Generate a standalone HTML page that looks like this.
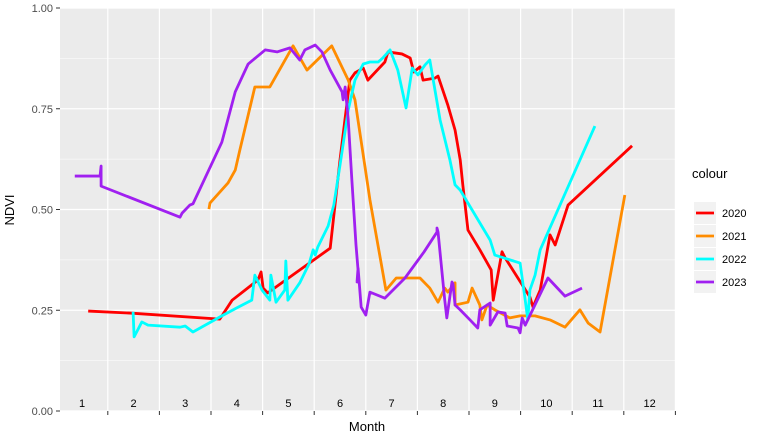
<!DOCTYPE html>
<html><head><meta charset="utf-8"><style>
body{margin:0;background:#fff;font-family:"Liberation Sans",sans-serif}
svg text{font-family:"Liberation Sans",sans-serif}
</style></head><body>
<svg id="chart" width="773" height="442">
<rect x="60" y="8" width="615" height="403" fill="#ebebeb"/>
<g id="grid"></g><g id="series"></g><g id="axes"></g>
<text x="14" y="210" transform="rotate(-90 14 210)" text-anchor="middle" font-size="13" fill="#000">NDVI</text>
<text x="367" y="431" text-anchor="middle" font-size="13" fill="#000">Month</text>
<g id="legend"></g>
</svg>
<script>
const months=[1,2,3,4,5,6,7,8,9,10,11,12];
const yTicks=[0,0.25,0.5,0.75,1];
const yTickLabels=["0.00","0.25","0.50","0.75","1.00"];
const seriesNames=["2020","2021","2022","2023"];
const seriesColors=["#ff0000","#ff8c00","#00ffff","#a020f0"];
const s2020=[[1.12,.248],[1.93,.243],[3.67,.228],[3.91,.275],[4.16,.300],[4.41,.325],[4.47,.345],[4.51,.305],[4.60,.293],[5.81,.404],[6.00,.623],[6.19,.821],[6.29,.839],[6.45,.851],[6.54,.821],[6.87,.866],[6.93,.891],[7.20,.886],[7.36,.876],[7.43,.841],[7.55,.854],[7.61,.821],[7.84,.826],[7.90,.831],[8.09,.759],[8.23,.697],[8.33,.623],[8.38,.561],[8.48,.449],[8.71,.400],[8.93,.350],[8.97,.275],[9.14,.395],[9.20,.380],[9.68,.283],[9.74,.258],[9.88,.300],[10.07,.437],[10.17,.412],[10.42,.511],[11.66,.658]];
const s2021=[[3.46,.501],[3.48,.516],[3.83,.566],[3.97,.598],[4.06,.648],[4.35,.804],[4.64,.804],[5.09,.906],[5.36,.846],[5.84,.906],[6.16,.821],[6.29,.772],[6.58,.524],[6.89,.300],[7.09,.330],[7.55,.330],[7.74,.305],[7.90,.270],[8.03,.305],[8.09,.295],[8.23,.318],[8.23,.263],[8.48,.270],[8.56,.305],[8.71,.263],[8.75,.226],[8.85,.263],[9.00,.251],[9.29,.231],[9.49,.236],[9.78,.236],[10.07,.226],[10.36,.208],[10.65,.251],[10.81,.218],[11.04,.196],[11.52,.536]];
const s2022=[[1.99,.246],[2.01,.184],[2.16,.221],[2.28,.213],[2.90,.208],[3.00,.211],[3.15,.196],[3.71,.236],[4.00,.256],[4.29,.275],[4.35,.337],[4.49,.300],[4.64,.275],[4.66,.337],[4.76,.270],[4.93,.300],[4.95,.372],[4.99,.275],[5.22,.318],[5.40,.365],[5.48,.400],[5.52,.387],[5.57,.407],[5.77,.459],[5.88,.511],[6.00,.610],[6.16,.747],[6.29,.821],[6.45,.861],[6.58,.866],[6.74,.866],[6.83,.876],[6.97,.896],[7.12,.846],[7.28,.752],[7.40,.851],[7.51,.834],[7.65,.859],[7.74,.871],[7.94,.722],[8.13,.623],[8.23,.561],[8.33,.548],[8.91,.424],[9.00,.387],[9.49,.367],[9.59,.275],[9.64,.226],[9.68,.300],[9.78,.337],[9.88,.400],[10.94,.707]];
const s2023=[[0.86,.583],[1.35,.583],[1.37,.608],[1.37,.558],[2.90,.481],[2.94,.491],[3.09,.511],[3.15,.514],[3.71,.667],[3.97,.792],[4.22,.861],[4.55,.896],[4.78,.891],[5.03,.901],[5.22,.871],[5.32,.896],[5.52,.908],[5.65,.891],[5.81,.846],[6.04,.792],[6.06,.772],[6.10,.804],[6.16,.722],[6.23,.573],[6.31,.412],[6.35,.350],[6.33,.320],[6.35,.355],[6.41,.258],[6.50,.238],[6.58,.295],[6.87,.280],[7.26,.330],[7.63,.395],[7.88,.444],[7.88,.454],[7.90,.444],[8.03,.275],[8.07,.231],[8.17,.320],[8.19,.315],[8.23,.263],[8.33,.251],[8.52,.226],[8.67,.206],[8.71,.251],[8.91,.268],[8.91,.213],[9.06,.246],[9.20,.243],[9.24,.211],[9.45,.206],[9.49,.194],[9.53,.231],[9.59,.213],[10.03,.330],[10.36,.285],[10.69,.305]];
const allSeries=[s2020,s2021,s2022,s2023];
const NS="http://www.w3.org/2000/svg";
const x=m=>82+(m-1)*51.6;
const y=v=>411-v*403;
function mk(tag,attrs,parent){const e=document.createElementNS(NS,tag);for(const k in attrs)e.setAttribute(k,attrs[k]);parent.appendChild(e);return e;}
const grid=document.getElementById('grid'),axes=document.getElementById('axes'),ser=document.getElementById('series'),leg=document.getElementById('legend');
for(let i=0;i<yTicks.length-1;i++){const g=mk('line',{x1:60,x2:675,y1:y((yTicks[i]+yTicks[i+1])/2),y2:y((yTicks[i]+yTicks[i+1])/2),stroke:'#fff','stroke-width':0.6},grid);

}
yTicks.forEach((t,i)=>{const g=mk('line',{x1:60,x2:675,y1:y(t),y2:y(t),stroke:'#fff','stroke-width':1.2},grid);


const tk=mk('line',{x1:56,x2:60,y1:y(t),y2:y(t),stroke:'#333','stroke-width':1},axes);


const tx=mk('text',{x:53,y:y(t)+4,'text-anchor':'end','font-size':11,fill:'#4d4d4d'},axes);tx.textContent=yTickLabels[i];

});
months.forEach(m=>{const gx=x(m+0.5);const g=mk('line',{x1:gx,x2:gx,y1:8,y2:411,stroke:'#fff','stroke-width':1.2},grid);


const tk=mk('line',{x1:gx,x2:gx,y1:411,y2:415,stroke:'#333','stroke-width':1},axes);


const tx=mk('text',{x:x(m),y:407,'text-anchor':'middle','font-size':11,fill:'#000'},axes);tx.textContent=m;

});
allSeries.forEach((s,i)=>{const p=mk('polyline',{points:s.map(d=>x(d[0])+','+y(d[1])).join(' '),fill:'none',stroke:seriesColors[i],'stroke-width':2.8,'stroke-linejoin':'round'},ser);

});
const lt=mk('text',{x:692,y:178,'font-size':13,fill:'#000'},leg);lt.textContent='colour';


seriesNames.forEach((n,i)=>{const yy=213+i*23;
const g=mk('g',{},leg);


mk('rect',{x:694,y:yy-11,width:22,height:22,fill:'#f2f2f2'},g);
mk('line',{x1:696,x2:714,y1:yy,y2:yy,stroke:seriesColors[i],'stroke-width':2.8},g);
const t=mk('text',{x:722,y:yy+4,'font-size':11,fill:'#000'},g);t.textContent=n;});
</script>
</body></html>
